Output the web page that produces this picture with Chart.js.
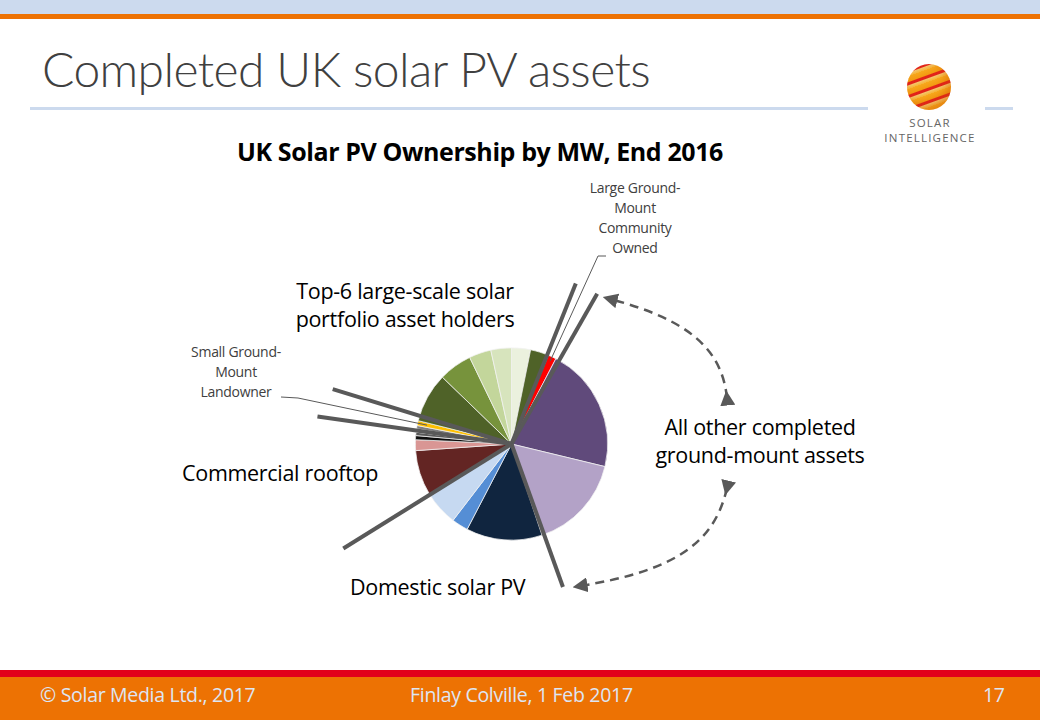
<!DOCTYPE html>
<html>
<head>
<meta charset="utf-8">
<script src="https://cdn.jsdelivr.net/npm/chart.js@4.4.1/dist/chart.umd.min.js"></script>
<style>
  html, body { margin: 0; padding: 0; }
  body { width: 1040px; height: 720px; position: relative; overflow: hidden; background: #fff; font-family: "Open Sans", sans-serif; }
  .abs { position: absolute; white-space: nowrap; }
  #topBlue { left: 0; top: 0; width: 1040px; height: 14px; background: #ccdaee; }
  #topOrange { left: 0; top: 14px; width: 1040px; height: 5px; background: #ed7203; }
  #title { left: 42px; top: 40px; font-size: 48px; font-weight: 300; color: #404040; letter-spacing: -0.6px; font-family: Lato, sans-serif; }
  #rule1 { left: 30px; top: 107px; width: 838px; height: 3px; background: #ccdaee; }
  #rule2 { left: 985px; top: 107px; width: 28px; height: 3px; background: #ccdaee; }
  #logo { left: 907px; top: 64px; width: 44px; height: 46px; border-radius: 50%;
    background: repeating-linear-gradient(160deg, #f7a81c 0px, #f39a12 5px, #e2231a 6px, #e2231a 8px, #f4c66a 9px, #f7b333 12px);
    box-shadow: inset -4px -4px 8px rgba(200,80,0,0.35); }
  #logoText { left: 870px; top: 115px; width: 120px; text-align: center; font-size: 11.5px; line-height: 15px; color: #666; letter-spacing: 1.2px; }
  #chartTitle { left: 130px; top: 134px; width: 700px; text-align: center; font-size: 25px; font-weight: bold; color: #000; letter-spacing: -0.4px; }
  .lbl { font-size: 21.5px; color: #000; text-align: center; line-height: 28px; letter-spacing: -0.3px; }
  .small { font-size: 14px; color: #404040; text-align: center; line-height: 20px; letter-spacing: -0.3px; }
  #footRed { left: 0; top: 670px; width: 1040px; height: 7px; background: #e2001a; }
  #footOrange { left: 0; top: 677px; width: 1040px; height: 43px; background: #ed7203; }
  .foot { top: 681px; font-size: 19.5px; color: #dde6f3; letter-spacing: -0.3px; }
  #chartBox { left: 0; top: 0; width: 1040px; height: 720px; }
  #arrows { left: 0; top: 0; }
</style>
</head>
<body>
<div id="topBlue" class="abs"></div>
<div id="topOrange" class="abs"></div>
<div id="title" class="abs">Completed UK solar PV assets</div>
<div id="rule1" class="abs"></div>
<div id="rule2" class="abs"></div>
<div id="logo" class="abs"></div>
<div id="logoText" class="abs">SOLAR<br>INTELLIGENCE</div>
<div id="chartTitle" class="abs">UK Solar PV Ownership by MW, End 2016</div>

<div class="abs lbl" style="left:255px; top:277px; width:300px;">Top-6 large-scale solar<br>portfolio asset holders</div>
<div class="abs small" style="left:166px; top:342px; width:140px;">Small Ground-<br>Mount<br>Landowner</div>
<div class="abs small" style="left:565px; top:178px; width:140px;">Large Ground-<br>Mount<br>Community<br>Owned</div>
<div class="abs lbl" style="left:182px; top:459px;">Commercial rooftop</div>
<div class="abs lbl" style="left:350px; top:573px;">Domestic solar PV</div>
<div class="abs lbl" style="left:610px; top:413px; width:300px;">All other completed<br>ground-mount assets</div>

<div id="footRed" class="abs"></div>
<div id="footOrange" class="abs"></div>
<div class="abs foot" style="left:40px;">© Solar Media Ltd., 2017</div>
<div class="abs foot" style="left:410px;">Finlay Colville, 1 Feb 2017</div>
<div class="abs foot" style="left:983px;">17</div>

<div id="chartBox" class="abs"><canvas id="pie" width="1040" height="720"></canvas></div>

<svg id="arrows" class="abs" width="1040" height="720">
  <defs>
    <marker id="head" markerWidth="6" markerHeight="6" refX="3" refY="3" orient="auto">
      <path d="M0,0 L6,3 L0,6 z" fill="#595959"></path>
    </marker>
  </defs>
  <path d="M727,398 C722,350 690,320 610,299" fill="none" stroke="#595959" stroke-width="2.5" stroke-dasharray="9,6" marker-start="url(#head)" marker-end="url(#head)"></path>
  <path d="M727,488 C715,540 680,570 580,586" fill="none" stroke="#595959" stroke-width="2.5" stroke-dasharray="9,6" marker-start="url(#head)" marker-end="url(#head)"></path>
</svg>

<script>
// slices clockwise from 12 o'clock, MW at end 2016
const sliceLabels = [
  "Top-6 holder F", "Top-6 holder A", "Large Ground-Mount Community Owned",
  "Other ground-mount (large)", "Other ground-mount (small)",
  "Domestic (owner)", "Domestic (rent-a-roof)", "Domestic (social housing)",
  "Commercial rooftop (self-owned)", "Commercial rooftop (third party)",
  "Commercial rooftop (public)", "Commercial rooftop (community)", "Commercial rooftop (other)",
  "Small ground-mount (farm)", "Small Ground-Mount Landowner",
  "Top-6 holder B", "Top-6 holder C", "Top-6 holder D", "Top-6 holder E"
];
const sliceMW = [370, 355, 160, 2450, 1865, 1480, 320, 680, 885, 210, 80, 65, 65, 65, 95, 965, 650, 430, 400];
const sliceColors = [
  "#ebf1de", "#4f6228", "#ff0000", "#604a7b", "#b3a2c7",
  "#10253f", "#558ed5", "#c6d9f1", "#632523", "#d99694",
  "#0d0d0d", "#595959", "#d9d9d9", "#7f7f7f", "#ffc000",
  "#4f6228", "#77933c", "#c3d69b", "#d7e4bd"
];

// thick group separators: drawn after slice index, angle nudge (deg), length (px)
const separators = [
  { after: 1, nudge: -0.7, len: 173 },
  { after: 2, nudge: 2.2, len: 173 },
  { after: 4, nudge: -1.3, len: 152 },
  { after: 7, nudge: -0.4, len: 198 },
  { after: 12, nudge: -1, len: 196 },
  { after: 14, nudge: 3, len: 187 }
];
// thin label leaders: slice index, label anchor points
const leaders = [
  { slice: 2, r: 0.95, pts: [[606, 256], [598, 256]] },
  { slice: 14, r: 0.9, pts: [[281, 397], [298, 398]] }
];

const groupLines = {
  id: "groupLines",
  afterDatasetsDraw(chart) {
    const ctx = chart.ctx;
    const arcs = chart.getDatasetMeta(0).data;
    ctx.save();
    ctx.strokeStyle = "#595959";
    ctx.lineCap = "butt";
    ctx.lineWidth = 4;
    separators.forEach(s => {
      const arc = arcs[s.after];
      const a = arc.endAngle + s.nudge * Math.PI / 180;
      ctx.beginPath();
      ctx.moveTo(arc.x, arc.y);
      ctx.lineTo(arc.x + Math.cos(a) * s.len, arc.y + Math.sin(a) * s.len);
      ctx.stroke();
    });
    ctx.lineWidth = 1;
    leaders.forEach(l => {
      const arc = arcs[l.slice];
      const a = (arc.startAngle + arc.endAngle) / 2;
      ctx.beginPath();
      ctx.moveTo(l.pts[0][0], l.pts[0][1]);
      for (let i = 1; i < l.pts.length; i++) ctx.lineTo(l.pts[i][0], l.pts[i][1]);
      ctx.lineTo(arc.x + Math.cos(a) * arc.outerRadius * l.r, arc.y + Math.sin(a) * arc.outerRadius * l.r);
      ctx.stroke();
    });
    ctx.restore();
  }
};

new Chart(document.getElementById("pie"), {
  type: "pie",
  data: {
    labels: sliceLabels,
    datasets: [{
      data: sliceMW,
      backgroundColor: sliceColors,
      borderColor: "#f2f2f2",
      borderWidth: 0.75
    }]
  },
  options: {
    responsive: false,
    animation: false,
    devicePixelRatio: 1,
    layout: { padding: { left: 415, right: 432, top: 347, bottom: 179 } },
    plugins: {
      legend: { display: false },
      tooltip: { enabled: false },
      title: { display: false }
    }
  },
  plugins: [groupLines]
});
</script>
</body>
</html>
